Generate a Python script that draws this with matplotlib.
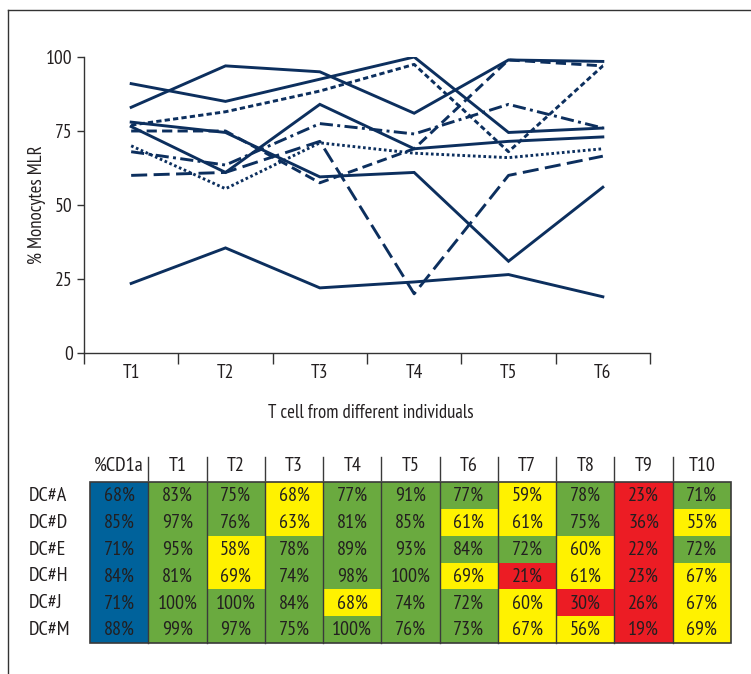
import matplotlib
matplotlib.use('Agg')
import matplotlib.pyplot as plt
from matplotlib.patches import Rectangle
from matplotlib.lines import Line2D
from matplotlib import font_manager as fm

_available = {f.name for f in fm.fontManager.ttflist}
_candidates = ['PT Sans Narrow', 'Roboto Condensed', 'Fira Sans Condensed',
               'Archivo Narrow', 'Liberation Sans Narrow', 'Open Sans Condensed']
_fams = [c for c in _candidates if c in _available][:1] + ['DejaVu Sans']
plt.rcParams['font.family'] = _fams

# ---------------- data ----------------
x_labels = ['T1', 'T2', 'T3', 'T4', 'T5', 'T6']

# line series (one per T cell donor, across the 6 x positions)
line_T1 = [83, 97, 95, 81, 99, 98.5]
line_T2 = [75, 75, 57.5, 69, 99, 97]
line_T3 = [68, 63.5, 77.5, 74, 84, 76]
line_T4 = [77, 81.5, 88.5, 97.5, 68, 97]
line_T5 = [91, 85, 92.5, 100, 74.5, 76]
line_T6 = [76.5, 61, 84, 69, 71.5, 73]
line_T7 = [60, 61, 71.5, 20, 60, 66.5]
line_T8 = [78, 74.5, 59.5, 61, 31, 56]
line_T9 = [23.5, 35.5, 22, 24, 26.5, 19]
line_T10 = [70, 55.5, 71, 67.5, 66, 69]

# table
col_headers = ['%CD1a', 'T1', 'T2', 'T3', 'T4', 'T5', 'T6', 'T7', 'T8', 'T9', 'T10']
row_labels = ['DC#A', 'DC#D', 'DC#E', 'DC#H', 'DC#J', 'DC#M']
row_A = [68, 83, 75, 68, 77, 91, 77, 59, 78, 23, 71]
row_D = [85, 97, 76, 63, 81, 85, 61, 61, 75, 36, 55]
row_E = [71, 95, 58, 78, 89, 93, 84, 72, 60, 22, 72]
row_H = [84, 81, 69, 74, 98, 100, 69, 21, 61, 23, 67]
row_J = [71, 100, 100, 84, 68, 74, 72, 60, 30, 26, 67]
row_M = [88, 99, 97, 75, 100, 76, 73, 67, 56, 19, 69]

# ---------------- styles ----------------
NAVY = '#0c2f5e'
TXT = '#231f20'
BLUE = '#00629b'
GREEN = '#6aaa3f'
YELLOW = '#fff200'
RED = '#ec1c24'
FS_TICK = 14
FS_LAB = 13.5
FS_TAB = 14.5

W, H = 751, 674
fig = plt.figure(figsize=(W / 100, H / 100), dpi=100)

# outer frame (left and top)
fig.add_artist(Line2D([8 / W, 8 / W], [0, 1 - 9.5 / H], color='#333333', lw=1.0, transform=fig.transFigure))
fig.add_artist(Line2D([8 / W, 1], [1 - 9.5 / H, 1 - 9.5 / H], color='#333333', lw=1.0, transform=fig.transFigure))

# ---------------- line chart ----------------
ax = fig.add_axes([84 / W, 1 - 353 / H, (650 - 84) / W, (353 - 57) / H])
series = [
    (line_T1, '-'),
    (line_T2, (0, (3.5, 1.8))),
    (line_T3, (0, (4.5, 1.5, 1.0, 1.5))),
    (line_T4, (0, (1.8, 1.1))),
    (line_T5, '-'),
    (line_T6, '-'),
    (line_T7, (0, (5.5, 2.2))),
    (line_T8, '-'),
    (line_T9, '-'),
    (line_T10, (0, (0.9, 0.9))),
]
xs = list(range(len(x_labels)))
for vals, ls in series:
    ax.plot(xs, vals, color=NAVY, lw=2.1, linestyle=ls, solid_joinstyle='miter')

ax.set_xlim(-0.5, len(x_labels) - 0.5)
ax.set_ylim(0, 100)
ax.spines['top'].set_visible(False)
ax.spines['right'].set_visible(False)
for s in ['left', 'bottom']:
    ax.spines[s].set_color('#333333')
    ax.spines[s].set_linewidth(1.0)
ax.set_yticks([0, 25, 50, 75, 100])
ax.set_xticks([i - 0.5 for i in range(len(x_labels) + 1)])
ax.set_xticklabels([])
ax.set_xticks(xs, minor=True)
ax.set_xticklabels(x_labels, minor=True)
ax.tick_params(axis='x', which='major', direction='out', length=8, width=1.0, color='#333333')
ax.tick_params(axis='x', which='minor', length=0, pad=8, labelsize=FS_TICK, labelcolor=TXT)
ax.tick_params(axis='y', direction='out', length=5, width=1.0, color='#333333', pad=3, labelsize=FS_TICK, labelcolor=TXT)
ax.text(-0.083, 0.5, '% Monocytes MLR', rotation=90, ha='center', va='center',
        fontsize=FS_LAB, color=TXT, transform=ax.transAxes)
ax.text(0.507, -0.203, 'T cell from different individuals', ha='center', va='center',
        fontsize=FS_LAB, color=TXT, transform=ax.transAxes)

# ---------------- table ----------------
rows = [row_A, row_D, row_E, row_H, row_J, row_M]
ncol = len(col_headers)
nrow = len(rows)
tx0, tx1 = 90, 731
ty0, ty1 = 482, 643
tax = fig.add_axes([tx0 / W, 1 - ty1 / H, (tx1 - tx0) / W, (ty1 - ty0) / H])
tax.set_xlim(0, ncol)
tax.set_ylim(nrow, 0)
tax.axis('off')


def cell_color(j, v):
    if j == 0:
        return BLUE
    if v >= 70:
        return GREEN
    if v >= 50:
        return YELLOW
    return RED


cw = (tx1 - tx0) / ncol
for i, r in enumerate(rows):
    for j, v in enumerate(r):
        tax.add_patch(Rectangle((j, i), 1, 1, facecolor=cell_color(j, v), edgecolor='none'))
        tax.text(j + 0.5, i + 0.52, f'{v}%', ha='center', va='center', fontsize=FS_TAB, color=TXT)
    tax.text(-61 / cw, i + 0.52, row_labels[i], ha='left', va='center', fontsize=FS_TAB, color=TXT, clip_on=False)

for j in range(1, ncol):
    tax.plot([j, j], [0, nrow], color='#3a3a3a', lw=1.0, clip_on=False)
    # header separators
    tax.plot([j, j], [-0.06, -0.95], color='#3a3a3a', lw=1.0, clip_on=False)
tax.add_patch(Rectangle((0, 0), ncol, nrow, facecolor='none', edgecolor='#3a3a3a', lw=1.2, clip_on=False))
for j, h in enumerate(col_headers):
    tax.text(j + 0.5, -0.6, h, ha='center', va='center', fontsize=FS_TAB, color=TXT, clip_on=False)

fig.savefig('out.png', dpi=100)
